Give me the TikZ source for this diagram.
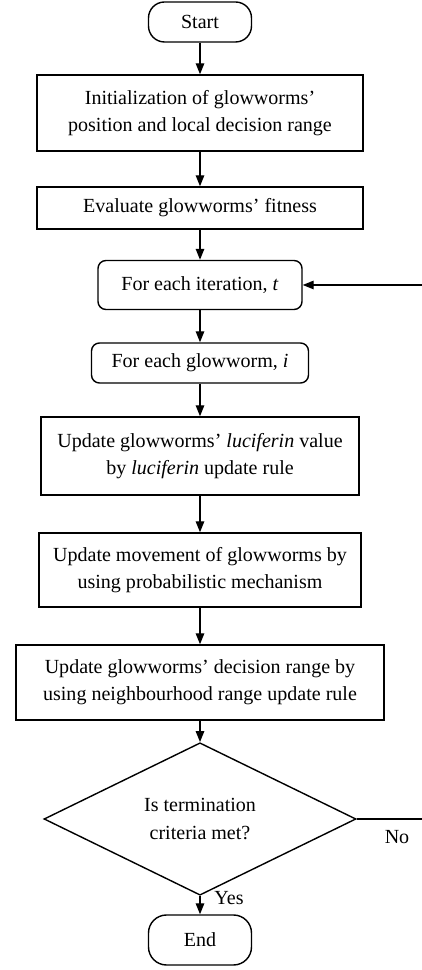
\documentclass[tikz,border=0pt]{standalone}
\usepackage{fontspec}
\setmainfont{Liberation Serif}
\usetikzlibrary{shapes.geometric,arrows.meta}
\begin{document}
\begin{tikzpicture}[
    procbox/.style={draw, line width=0.8pt, align=center, inner sep=0pt},
    termbox/.style={draw, line width=0.8pt, rounded corners=0.32cm, inner sep=0pt},
    loopbox/.style={draw, line width=0.8pt, rounded corners=0.16cm, inner sep=0pt},
    testbox/.style={draw, line width=0.8pt, diamond, align=center, inner sep=0pt},
    flow/.style={-{Triangle[length=0.22cm, width=0.17cm]}, line width=0.8pt},
    font=\fontsize{11.4}{15.4}\selectfont]
      \useasboundingbox (0, 0) rectangle (8.44, 19.4);

      \node[termbox, minimum width=2.06cm, minimum height=0.8cm] (start) at (4, 18.96) {Start};
      \node[procbox, minimum width=6.52cm, minimum height=1.52cm] (init) at (4, 17.14) {Initialization of glowworms'\\position and local decision range};
      \node[procbox, minimum width=6.52cm, minimum height=0.84cm] (eval) at (4, 15.24) {Evaluate glowworms' fitness};
      \node[loopbox, minimum width=4.08cm, minimum height=0.98cm] (iter) at (4, 13.7) {For each iteration, \textit{t}};
      \node[loopbox, minimum width=4.34cm, minimum height=0.8cm] (worm) at (4, 12.14) {For each glowworm, \textit{i}};
      \node[procbox, minimum width=6.36cm, minimum height=1.56cm] (luci) at (4, 10.28) {Update glowworms' \textit{luciferin} value\\by \textit{luciferin} update rule};
      \node[procbox, minimum width=6.44cm, minimum height=1.48cm] (move) at (4, 8.0) {Update movement of glowworms by\\using probabilistic mechanism};
      \node[procbox, minimum width=7.36cm, minimum height=1.5cm] (range) at (4, 5.75) {Update glowworms' decision range by\\using neighbourhood range update rule};
      \node[testbox, minimum width=6.24cm, minimum height=2.44cm] (test) at (4, 3.02) {Is termination\\criteria met?};
      \node[termbox, rounded corners=0.36cm, minimum width=2.06cm, minimum height=1.0cm] (end) at (4, 0.6) {End};

      \node (yes) at (4.58, 1.44) {Yes};
      \node (no) at (7.94, 2.66) {No};
      % return line runs along the cut right edge
      \coordinate (back) at (8.455, 3.02);

      \draw[flow] (start) -- (init);
      \draw[flow] (init) -- (eval);
      \draw[flow] (eval) -- (iter);
      \draw[flow] (iter) -- (worm);
      \draw[flow] (worm) -- (luci);
      \draw[flow] (luci) -- (move);
      \draw[flow] (move) -- (range);
      \draw[flow] (range) -- (test);
      \draw[flow] (test) -- (end);
      \draw[flow] (test.east) -- (back) |- (iter.east);
\end{tikzpicture}
\end{document}
